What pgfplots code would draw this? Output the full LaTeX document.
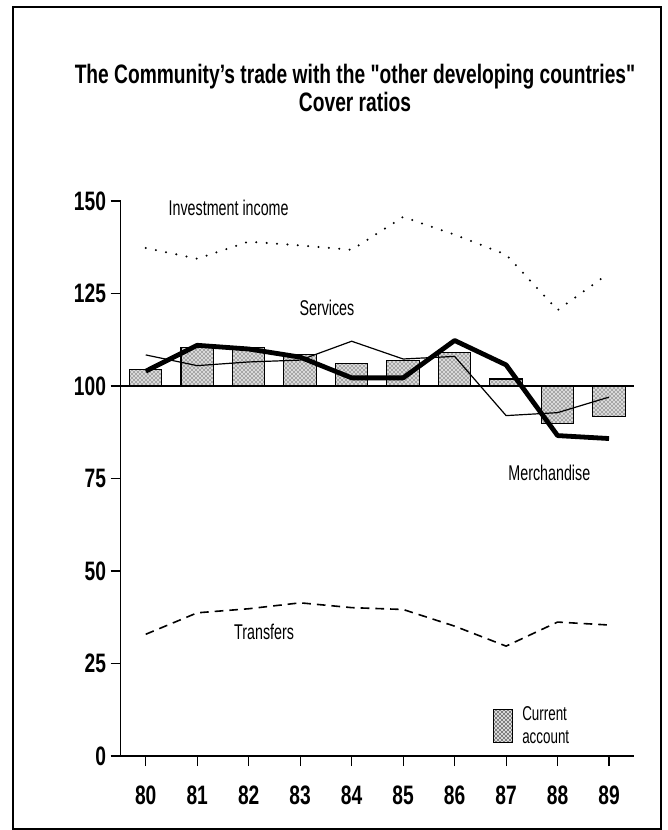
\documentclass[border=0pt]{standalone}
\usepackage{fontspec}
\setmainfont{Liberation Sans}[FakeStretch=0.72]
\newfontfamily\titlefont{Liberation Sans}[FakeStretch=0.72, Ligatures=TeXOff]
\newfontfamily\narrowlab{Liberation Sans}[FakeStretch=0.67]
\usepackage{pgfplots}
\pgfplotsset{compat=1.18}
\usetikzlibrary{patterns}
\begin{document}
\begin{tikzpicture}[x=0.75pt,y=-0.75pt]
\path[use as bounding box] (0,0) rectangle (667,830);
\fill[white] (0,0) rectangle (667,830);
\draw[line width=1.1pt] (13,7) rectangle (661,829);
\node[align=center, font=\fontsize{20}{20.5}\selectfont\titlefont\bfseries] at (355,88)
  {The Community’s trade with the "other developing countries"\\Cover ratios};
\begin{axis}[
  at={(90.53pt,-567pt)}, anchor=south west,
  scale only axis, width=384.8pt, height=416.25pt,
  xmin=79.514, xmax=89.48, ymin=-100, ymax=50,
  y filter/.expression={y-100},
  axis x line=bottom, axis y line=left,
  axis line style={-, line width=1pt},
  xtick={80,81,82,83,84,85,86,87,88,89},
  xticklabels={80,81,82,83,84,85,86,87,88,89},
  ytick={-100,-75,-50,-25,0,25,50},
  yticklabels={0,25,50,75,100,125,150},
  tick align=outside, major tick length=7.5pt,
  tick style={black, line width=0.9pt},
  ticklabel style={font=\fontsize{20}{20}\selectfont\bfseries},
  xticklabel style={yshift=-11pt},
  clip=false,
  legend style={draw=none, fill=none, at={(0.7255,0.054)}, anchor=west,
    font=\fontsize{15}{17}\selectfont\narrowlab, cells={align=left}, inner sep=0pt,
    /tikz/column sep=5pt},
  legend image code/.code={\draw[fill=black!15, postaction={pattern=crosshatch dots, pattern color=black}, draw=black, line width=0.8pt] (0pt,-12.5pt) rectangle (14pt,12.5pt);},
]
% current account bars
\addplot[ybar, bar width=0.63, bar shift=0pt, draw=black, line width=0.8pt,
  fill=black!15, postaction={pattern=crosshatch dots, pattern color=black}] coordinates {
 (80,104.5) (81,110.5) (82,110.4) (83,108.6) (84,106.2)
 (85,107.0) (86,109.1) (87,101.9) (88,89.8) (89,91.8)};
\addlegendentry{Current\\account}
% reference line at 100
\addplot[black, line width=1pt, forget plot] coordinates {(79.514,100) (89.48,100)};
% services
\addplot[black, line width=0.9pt, line join=round, forget plot] coordinates {
 (80,108.4) (81,105.5) (82,106.5) (83,107) (84,112.1)
 (85,107.3) (86,108) (87,92) (88,92.8) (89,97)};
% merchandise
\addplot[black, line width=3.6pt, line join=round, forget plot] coordinates {
 (80,104) (81,111) (82,110) (83,107.8) (84,102.2)
 (85,102.2) (86,112.3) (87,105.7) (88,86.6) (89,85.8)};
% investment income
\addplot[black, line width=1.7pt, line cap=round, dash pattern=on 0pt off 7.8pt, forget plot] coordinates {
 (80,137.3) (81,134.4) (82,139) (83,138) (84,136.8)
 (85,145.7) (86,140.9) (87,135.5) (88,120.5) (89,130.5)};
% transfers
\addplot[black, line width=1.2pt, dash pattern=on 6.5pt off 4.5pt, forget plot] coordinates {
 (80,32.9) (81,38.7) (82,39.8) (83,41.4) (84,40.1)
 (85,39.6) (86,35.1) (87,29.7) (88,36.2) (89,35.4)};
\node[font=\fontsize{16}{16}\selectfont\narrowlab] at (axis cs:81.61,48.2) {Investment income};
\node[font=\fontsize{16}{16}\selectfont\narrowlab] at (axis cs:83.52,21.1) {Services};
\node[font=\fontsize{16}{16}\selectfont\narrowlab] at (axis cs:87.84,-23.5) {Merchandise};
\node[font=\fontsize{16}{16}\selectfont\narrowlab] at (axis cs:82.3,-66.5) {Transfers};
\end{axis}
\end{tikzpicture}
\end{document}
